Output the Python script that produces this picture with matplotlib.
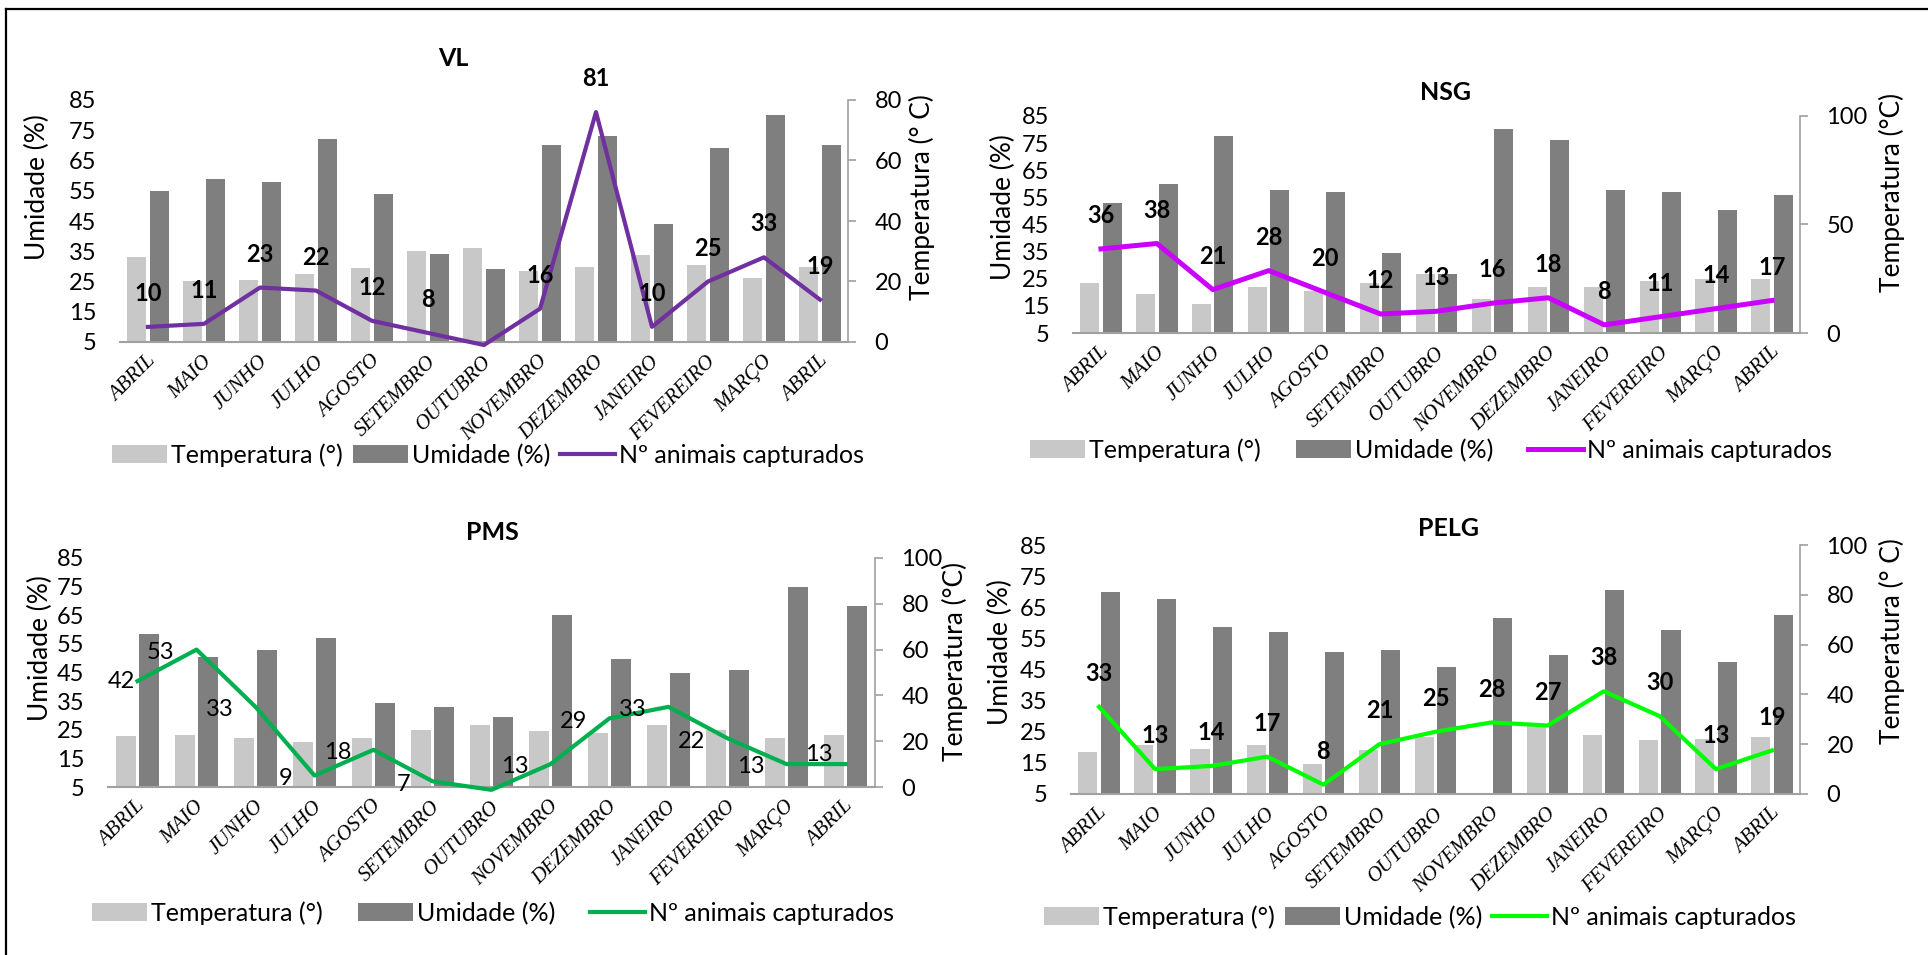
import numpy as np
import matplotlib
matplotlib.use('Agg')
import matplotlib.pyplot as plt
from matplotlib.lines import Line2D
import matplotlib.transforms as mtrans

plt.rcParams['font.family'] = ['Lato', 'DejaVu Sans']

meses = ['ABRIL', 'MAIO', 'JUNHO', 'JULHO', 'AGOSTO', 'SETEMBRO', 'OUTUBRO',
         'NOVEMBRO', 'DEZEMBRO', 'JANEIRO', 'FEVEREIRO', 'MARÇO', 'ABRIL']

# VL
vl_temp = [33.0, 25.1, 25.4, 27.6, 29.6, 35.0, 36.0, 28.5, 29.9, 33.6, 30.5, 26.0, 29.8]
vl_umid = [55, 59, 58, 72, 54, 34, 29, 70, 73, 44, 69, 80, 70]
vl_capt = [10, 11, 23, 22, 12, 8, 4, 16, 81, 10, 25, 33, 19]
vl_rot = ['10', '11', '23', '22', '12', '8', '', '16', '81', '10', '25', '33', '19']

# NSG
nsg_temp = [23.3, 19.4, 15.7, 21.8, 20.6, 23.3, 26.6, 17.6, 21.9, 21.9, 24.1, 24.9, 24.9]
nsg_umid = [52.9, 60.1, 77.8, 57.8, 56.9, 34.6, 26.6, 80.3, 76.3, 57.8, 56.9, 50.5, 56.0]
nsg_capt = [36, 38, 21, 28, 20, 12, 13, 16, 18, 8, 11, 14, 17]
nsg_rot = [str(v) for v in nsg_capt]

# PMS
pms_temp = [22.8, 23.2, 22.0, 20.7, 22.2, 24.8, 26.5, 24.4, 24.0, 26.5, 24.9, 22.0, 23.2]
pms_umid = [58.6, 50.5, 53.0, 57.1, 34.4, 32.8, 29.6, 65.1, 49.7, 44.9, 45.7, 74.7, 68.2]
pms_capt = [42, 53, 33, 9, 18, 7, 4, 13, 29, 33, 22, 13, 13]
pms_rot = ['42', '53', '33', '9', '18', '7', '', '13', '29', '33', '22', '13', '13']

# PELG
pelg_temp = [18.5, 20.7, 19.5, 20.8, 14.5, 19.2, 23.3, np.nan, 26.8, 24.1, 22.3, 22.7, 23.3]
pelg_umid = [69.8, 67.5, 58.6, 56.9, 50.5, 51.4, 45.8, 61.7, 49.8, 70.6, 57.8, 47.3, 62.6]
pelg_capt = [33, 13, 14, 17, 8, 21, 25, 28, 27, 38, 30, 13, 19]
pelg_rot = [str(v) for v in pelg_capt]

W, H = 1928, 955
fig = plt.figure(figsize=(W / 100, H / 100), dpi=100)

CLARO = '#C8C8C8'
ESCURO = '#7F7F7F'
CINZA = '#A0A0A0'


def fx(x):
  return x / W


def fy(y):
  return 1 - y / H


def painel(box, temp, umid, capt, rot, cor, lw, dmax, dstep, titulo, tit, ylab_e, ylab_d, texto_d,
           leg, colsp, lado=False):
  l, t, r, b = box
  ax = fig.add_axes([fx(l), fy(b), (r - l) / W, (b - t) / H])
  x = np.arange(len(meses))
  b1 = ax.bar(x - 0.2, temp, 0.34, color=CLARO)
  b2 = ax.bar(x + 0.2, umid, 0.34, color=ESCURO)
  ln, = ax.plot(x, capt, color=cor, lw=lw, clip_on=False, zorder=4)
  ax.set_xlim(-0.5, len(meses) - 0.5)
  ax.set_ylim(5, 85)
  ax.set_yticks(range(5, 86, 10))
  ax.tick_params(axis='y', length=0, pad=17, labelsize=17)
  for s in ['left', 'top', 'right']:
    ax.spines[s].set_visible(False)
  ax.spines['bottom'].set_color(CINZA)
  ax.spines['bottom'].set_linewidth(1.5)
  ax.set_xticks(x)
  ax.set_xticklabels(meses, rotation=45, ha='right', va='center', rotation_mode='anchor',
                     fontfamily='Liberation Serif', fontstyle='italic', fontsize=15)
  ax.tick_params(axis='x', length=0, pad=12)
  off = mtrans.ScaledTranslation(5 / 100, 0, fig.dpi_scale_trans)
  for lb in ax.get_xticklabels():
    lb.set_transform(lb.get_transform() + off)

  for i, (v, s) in enumerate(zip(capt, rot)):
    if not s:
      continue
    if lado:
      dx, dy = -16, -2
      if i == 0:
        dx, dy = -2, 0
      if i == len(capt) - 1:
        dx, dy = -9, 7
      ax.annotate(s, (i, v), xytext=(dx, dy), textcoords='offset points', ha='right', va='center',
                  fontsize=17, zorder=5)
    else:
      ax.annotate(s, (i, v), xytext=(0, 24), textcoords='offset points', ha='center', va='center',
                  fontsize=17, fontweight='bold', zorder=5)

  ax2 = ax.twinx()
  ax2.set_ylim(0, dmax)
  ax2.set_yticks(np.arange(0, dmax + 1, dstep))
  for s in ['left', 'top', 'bottom']:
    ax2.spines[s].set_visible(False)
  ax2.spines['right'].set_color(CINZA)
  ax2.spines['right'].set_linewidth(1.2)
  ax2.tick_params(axis='y', length=6, width=1.2, color=CINZA, pad=13, labelsize=17)

  fig.text(fx(tit[0]), fy(tit[1]), titulo, ha='center', va='center', fontsize=18, fontweight='bold')
  fig.text(fx(ylab_e[0]), fy(ylab_e[1]), 'Umidade (%)', rotation=90, ha='center', va='center', fontsize=19)
  fig.text(fx(ylab_d[0]), fy(ylab_d[1]), texto_d, rotation=90, ha='center', va='center', fontsize=19)

  ax2.legend([b1, b2, ln], ['Temperatura (°)', 'Umidade (%)', 'Nº animais capturados'], loc='center',
             bbox_to_anchor=(fx(leg[0]), fy(leg[1])), bbox_transform=fig.transFigure,
             ncol=3, frameon=False, fontsize=18, handlelength=2.2, handleheight=0.7,
             handletextpad=0.15, columnspacing=colsp, borderpad=0)
  return ax


painel((120, 100, 848, 342), vl_temp, vl_umid, vl_capt, vl_rot, '#7030A0', 3.0, 80, 20, 'VL',
       (453, 58), (37, 187), (922, 197), 'Temperatura (° C)', (488, 455), 0.4)
painel((1073, 116, 1800, 333), nsg_temp, nsg_umid, nsg_capt, nsg_rot, '#CC00FF', 3.6, 100, 50, 'NSG',
       (1446, 92), (1003, 207), (1892, 192), 'Temperatura (°C)', (1431, 450), 1.4)
painel((108, 558, 875, 787), pms_temp, pms_umid, pms_capt, pms_rot, '#00B050', 3.0, 100, 20, 'PMS',
       (492, 532), (40, 648), (955, 661), 'Temperatura (°C)', (493, 913), 1.4, lado=True)
painel((1071, 545, 1800, 794), pelg_temp, pelg_umid, pelg_capt, pelg_rot, '#00FF00', 3.0, 100, 20, 'PELG',
       (1448, 529), (1000, 652), (1892, 641), 'Temperatura (° C)', (1420, 917), 0.4)

# moldura
fig.add_artist(Line2D([fx(6), fx(6)], [0, fy(9)], color='black', lw=1.6))
fig.add_artist(Line2D([fx(6), 1], [fy(9), fy(9)], color='black', lw=1.6))

fig.savefig('out.png', dpi=100)
